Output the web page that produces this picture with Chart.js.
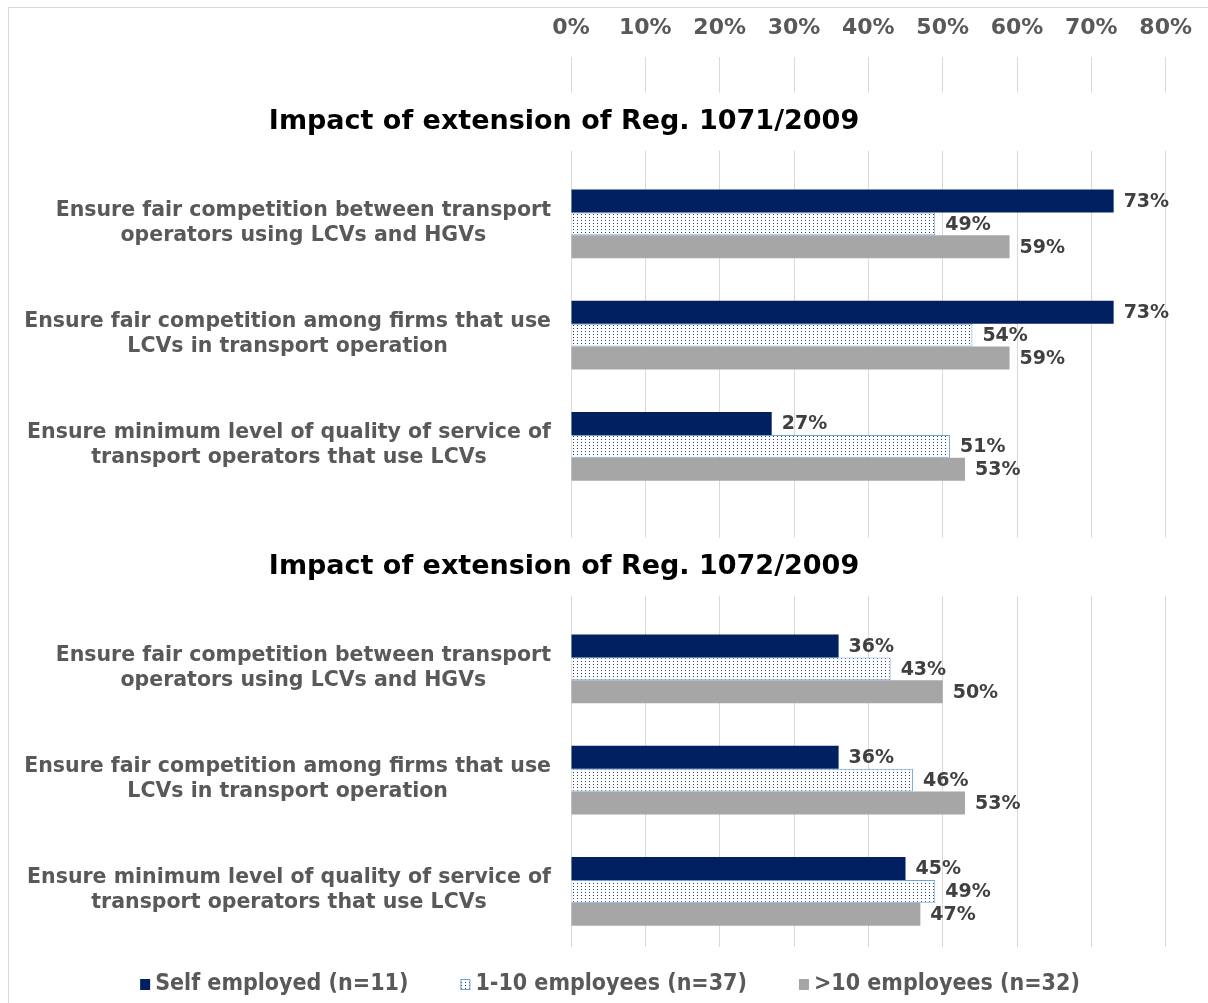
<!DOCTYPE html>
<html>
<head>
<meta charset="utf-8">
<script src="https://cdn.jsdelivr.net/npm/chart.js@4.4.1/dist/chart.umd.min.js"></script>
<style>
    html, body { margin: 0; padding: 0; background: #fff; }
    #wrap { width: 1208px; height: 1003px; position: relative; }
</style>
</head>
<body>
<div id="wrap"><canvas id="ImpactChart"></canvas></div>
<script>
// data
const sectionTitles = ['Impact of extension of Reg. 1071/2009', 'Impact of extension of Reg. 1072/2009'];
const questions = [
    ['Ensure fair competition between transport', 'operators using LCVs and HGVs'],
    ['Ensure fair competition among firms that use', 'LCVs in transport operation'],
    ['Ensure minimum level of quality of service of', 'transport operators that use LCVs']
];
const seriesNames = ['Self employed (n=11)', '1-10 employees (n=37)', '>10 employees (n=32)'];
const selfEmployed = [73, 73, 27, 36, 36, 45];
const smallFirms = [49, 54, 51, 43, 46, 49];
const largeFirms = [59, 59, 53, 50, 53, 47];
const xTicks = [0, 10, 20, 30, 40, 50, 60, 70, 80];

const FONT = "'DejaVu Sans', Verdana, sans-serif";
const GREY_TEXT = '#595959';

// build rows: one title row then the three questions, per section
let labels = [];
let titleRows = {};
function rowValues(values) {
    let out = [];
    sectionTitles.forEach(function (t, s) {
        out.push(null);
        for (let q = 0; q < questions.length; q++) {
            out.push(values[s * questions.length + q]);
        }
    });
    return out;
}
sectionTitles.forEach(function (t) {
    titleRows[labels.length] = t;
    labels.push('');
    questions.forEach(function (q) { labels.push(q); });
});

function dotPattern() {
    let c = document.createElement('canvas');
    c.width = 4;
    c.height = 3;
    let g = c.getContext('2d');
    g.fillStyle = '#ffffff';
    g.fillRect(0, 0, 4, 3);
    g.fillStyle = '#24407e';
    g.fillRect(1, 1, 1, 1);
    return g.createPattern(c, 'repeat');
}
const dots = dotPattern();

const frame = {
    id: 'frame',
    beforeDraw(chart) {
        const ctx = chart.ctx;
        ctx.save();
        ctx.fillStyle = '#fff';
        ctx.fillRect(0, 0, chart.width, chart.height);
        ctx.strokeStyle = '#d9d9d9';
        ctx.lineWidth = 1;
        ctx.strokeRect(8.5, 7.5, chart.width + 20, chart.height + 20);
        ctx.restore();
    }
};

// category labels: each block centred, its widest line ending near the axis
const rowLabels = {
    id: 'rowLabels',
    afterDraw(chart) {
        const ctx = chart.ctx;
        const y = chart.scales.y;
        const right = chart.chartArea.left - 20;
        ctx.save();
        ctx.font = 'bold 20.5px ' + FONT;
        ctx.fillStyle = GREY_TEXT;
        ctx.textAlign = 'center';
        ctx.textBaseline = 'middle';
        chart.data.labels.forEach(function (lab, i) {
            if (!Array.isArray(lab)) return;
            const widest = Math.max.apply(null, lab.map(function (l) { return ctx.measureText(l).width; }));
            const cx = right - widest / 2;
            const cy = y.getPixelForValue(i);
            lab.forEach(function (line, k) {
                ctx.fillText(line, cx, cy + (k - (lab.length - 1) / 2) * 25 - 1);
            });
        });
        ctx.restore();
    }
};

const sectionHeads = {
    id: 'sectionHeads',
    afterDatasetsDraw(chart) {
        const ctx = chart.ctx;
        const y = chart.scales.y;
        const area = chart.chartArea;
        ctx.save();
        Object.keys(titleRows).forEach(function (idx) {
            const py = y.getPixelForValue(Number(idx)) + 9;
            ctx.fillStyle = '#fff';
            ctx.fillRect(area.left - 2, py - 29, area.right - area.left + 4, 58);
            ctx.fillStyle = '#000';
            ctx.font = 'bold 27px ' + FONT;
            ctx.textAlign = 'center';
            ctx.textBaseline = 'middle';
            ctx.fillText(titleRows[idx], chart.width / 2 - 40, py);
        });
        ctx.restore();
    }
};

const valueLabels = {
    id: 'valueLabels',
    afterDatasetsDraw(chart) {
        const ctx = chart.ctx;
        ctx.save();
        ctx.font = 'bold 19px ' + FONT;
        ctx.fillStyle = '#404040';
        ctx.textAlign = 'left';
        ctx.textBaseline = 'middle';
        chart.data.datasets.forEach(function (ds, i) {
            chart.getDatasetMeta(i).data.forEach(function (bar, j) {
                if (ds.data[j] === null) return;
                ctx.fillText(ds.data[j] + '%', bar.x + 10, bar.y + 1);
            });
        });
        ctx.restore();
    }
};

const bottomLegend = {
    id: 'bottomLegend',
    afterDraw(chart) {
        const ctx = chart.ctx;
        const gap = 52;
        const box = 10;
        ctx.save();
        ctx.font = "bold 23px 'DejaVu Sans Condensed', 'DejaVu Sans', sans-serif";
        ctx.textBaseline = 'middle';
        ctx.textAlign = 'left';
        let widths = chart.data.datasets.map(function (ds) {
            return box + 5 + ctx.measureText(ds.label).width;
        });
        let total = widths.reduce(function (a, b) { return a + b; }, 0) + gap * (widths.length - 1);
        let x = chart.width / 2 + 6 - total / 2;
        const yc = chart.chartArea.bottom + 37;
        chart.data.datasets.forEach(function (ds, i) {
            ctx.fillStyle = ds.backgroundColor;
            ctx.fillRect(x, yc - 5, box, box + 1);
            if (ds.borderWidth) {
                ctx.strokeStyle = ds.borderColor;
                ctx.lineWidth = 1;
                ctx.strokeRect(x + 0.5, yc - 4.5, box - 1, box);
            }
            ctx.fillStyle = GREY_TEXT;
            ctx.fillText(ds.label, x + box + 5, yc);
            x += widths[i] + gap;
        });
        ctx.restore();
    }
};

const impact_chart = new Chart(
    document.getElementById('ImpactChart'),
    {
        type: 'bar',
        data: {
            labels: labels,
            datasets: [
                {
                    label: seriesNames[0],
                    data: rowValues(selfEmployed),
                    backgroundColor: '#002060',
                    borderWidth: 0
                },
                {
                    label: seriesNames[1],
                    data: rowValues(smallFirms),
                    backgroundColor: dots,
                    borderColor: '#6fa3d8',
                    borderWidth: 1
                },
                {
                    label: seriesNames[2],
                    data: rowValues(largeFirms),
                    backgroundColor: '#a6a6a6',
                    borderWidth: 0
                }
            ]
        },
        options: {
            indexAxis: 'y',
            responsive: true,
            maintainAspectRatio: false,
            animation: false,
            layout: {
                padding: {top: 0, right: 38, bottom: 56, left: 0}
            },
            datasets: {
                bar: {
                    categoryPercentage: 0.62,
                    barPercentage: 1.0
                }
            },
            scales: {
                x: {
                    position: 'top',
                    min: 0,
                    max: 80,
                    afterBuildTicks: function (scale) {
                        scale.ticks = xTicks.map(function (v) { return {value: v}; });
                    },
                    afterFit: function (scale) {
                        scale.height = 57;
                    },
                    ticks: {
                        callback: function (v) { return v + '%'; },
                        color: GREY_TEXT,
                        font: {family: FONT, size: 22, weight: 'bold'},
                        padding: 16,
                        maxRotation: 0
                    },
                    grid: {
                        color: '#d9d9d9',
                        drawTicks: false
                    },
                    border: {display: false}
                },
                y: {
                    afterFit: function (scale) {
                        scale.width = 571;
                    },
                    ticks: {
                        display: false,
                        autoSkip: false
                    },
                    grid: {display: false},
                    border: {display: false}
                }
            },
            plugins: {
                legend: {display: false},
                tooltip: {enabled: false}
            }
        },
        plugins: [frame, sectionHeads, valueLabels, rowLabels, bottomLegend]
    }
);
</script>
</body>
</html>
